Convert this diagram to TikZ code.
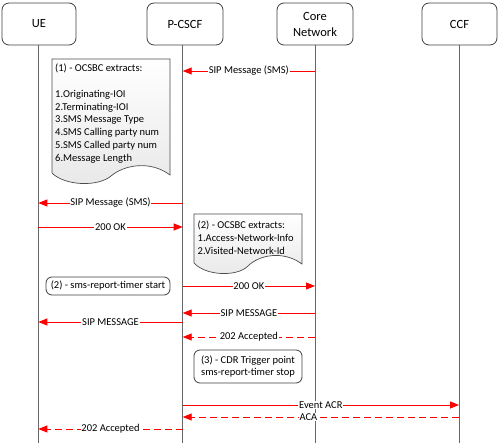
\documentclass[tikz,border=0pt]{standalone}
\usepackage{fontspec}
\setmainfont{Carlito}
\usetikzlibrary{arrows.meta}
\tikzset{
 hdr/.style={draw=black!75, line width=0.8pt, rounded corners=7pt, fill=white, minimum height=42pt, align=center, font=\fontsize{12.5}{16}\selectfont, inner sep=0pt},
 life/.style={draw=black!60, line width=0.8pt},
 msg/.style={draw=red, line width=0.9pt, -{Triangle[length=9pt,width=7pt]}},
 rmsg/.style={msg, dash pattern=on 7pt off 4pt},
 lbl/.style={fill=white, inner sep=0.8pt, font=\fontsize{10.5}{12}\selectfont, text=black},
 notebox/.style={draw=black!70, line width=0.7pt, top color=white, bottom color=black!9},
 notetxt/.style={align=left, anchor=north west, inner sep=0pt, font=\fontsize{10.5}{12.8}\selectfont},
 evbox/.style={draw=black!75, line width=0.8pt, rounded corners=6pt, fill=white, align=center, font=\fontsize{10.5}{11.5}\selectfont, inner sep=0pt},
}
\begin{document}
\begin{tikzpicture}[x=1pt,y=-1pt]
\useasboundingbox (0,0) rectangle (499,443);
% header boxes
\node[hdr, minimum width=74pt] (ue) at (39,24) {UE};
\node[hdr, minimum width=76pt] (pcscf) at (185,24) {P-CSCF};
\node[hdr, minimum width=76pt] (core) at (315,24) {Core\\Network};
\node[hdr, minimum width=75pt] (ccf) at (459.5,24) {CCF};
% lifelines
\coordinate (ueT) at (38.3,45);  \coordinate (ueB) at (38.3,443);
\coordinate (pcT) at (182.7,45); \coordinate (pcB) at (182.7,443);
\coordinate (coT) at (315,45);   \coordinate (coB) at (315,443);
\coordinate (ccT) at (459,45);   \coordinate (ccB) at (459,443);
\draw[life] (ueT) -- (ueB);
\draw[life] (pcT) -- (pcB);
\draw[life] (coT) -- (coB);
\draw[life] (ccT) -- (ccB);
% note 1
\path[notebox] (52,59) -- (170,59) -- (170,175) .. controls (150,160) and (124,165) .. (111,176) .. controls (98,187) and (65,186) .. (52,173) -- cycle;
\node[notetxt] (n1) at (55,64) {(1) - OCSBC extracts:\\[12.6pt]1.Originating-IOI\\2.Terminating-IOI\\3.SMS Message Type\\4.SMS Calling party num\\5.SMS Called party num\\6.Message Length};
% note 2
\path[notebox] (194,214) -- (302,214) -- (302,264) .. controls (283,250) and (259,255) .. (248,266) .. controls (237,277) and (206,276) .. (194,263) -- cycle;
\node[notetxt] (n2) at (197.5,221) {(2) - OCSBC extracts:\\1.Access-Network-Info\\2.Visited-Network-Id};
% event boxes
\node[evbox, minimum width=124pt, minimum height=18pt] (timer) at (108,286) {(2) - sms-report-timer start};
\node[evbox, minimum width=108pt, minimum height=33pt] (cdr) at (248,366.5) {(3) - CDR Trigger point\\sms-report-timer stop};
% messages
\draw[msg] (coT |- 0,71) -- node[lbl] {SIP Message (SMS)} (pcT |- 0,71);
\draw[msg] (pcT |- 0,203) -- node[lbl] {SIP Message (SMS)} (ueT |- 0,203);
\draw[msg] (ueT |- 0,227) -- node[lbl] {200 OK} (pcT |- 0,227);
\draw[msg] (pcT |- 0,286) -- node[lbl] {200 OK} (coT |- 0,286);
\draw[msg] (coT |- 0,313) -- node[lbl] {SIP MESSAGE} (pcT |- 0,313);
\draw[msg] (pcT |- 0,322) -- node[lbl] {SIP MESSAGE} (ueT |- 0,322);
\draw[rmsg] (coT |- 0,337) -- node[lbl] {202 Accepted} (pcT |- 0,337);
\draw[msg] (pcT |- 0,405) -- node[lbl] {Event ACR} (ccT |- 0,405);
\draw[rmsg] (ccT |- 0,417) -- node[lbl, pos=0.545] {ACA} (pcT |- 0,417);
\draw[rmsg] (pcT |- 0,429) -- node[lbl] {202 Accepted} (ueT |- 0,429);
\end{tikzpicture}
\end{document}
